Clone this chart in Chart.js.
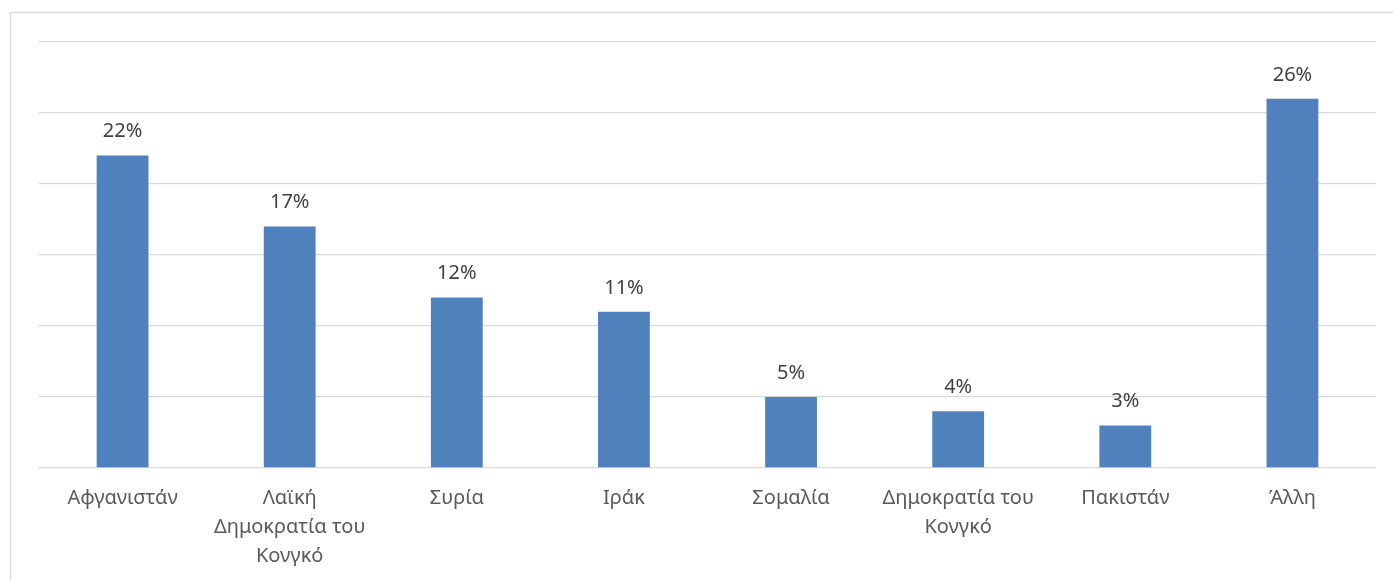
<!DOCTYPE html>
<html>
<head>
<meta charset="utf-8">
<script src="https://cdn.jsdelivr.net/npm/chart.js@4"></script>
<style>
  html, body { margin: 0; padding: 0; background: #fff; }
  #wrap { position: relative; width: 1393px; height: 580px; }
</style>
</head>
<body>
<div id="wrap"><canvas id="chart"></canvas></div>
<script>
// χώρες προέλευσης
const categories = [
  'Αφγανιστάν',
  ['Λαϊκή', 'Δημοκρατία του', 'Κονγκό'],
  'Συρία',
  'Ιράκ',
  'Σομαλία',
  ['Δημοκρατία του', 'Κονγκό'],
  'Πακιστάν',
  'Άλλη'
];
const shares = [22, 17, 12, 11, 5, 4, 3, 26];
const yMax = 30;
const yStep = 5;

const FONT = '"Noto Sans", "Open Sans", sans-serif';

// πλαίσιο γύρω από το γράφημα
const framePlugin = {
  id: 'frame',
  beforeDraw(chart) {
    const ctx = chart.ctx;
    ctx.save();
    ctx.fillStyle = '#fff';
    ctx.fillRect(0, 0, chart.width, chart.height);
    ctx.strokeStyle = '#d9d9d9';
    ctx.lineWidth = 1.3;
    ctx.strokeRect(10.5, 12.5, chart.width + 20, chart.height + 20);
    ctx.restore();
  }
};

// ετικέτες τιμών πάνω από τις μπάρες
const valueLabels = {
  id: 'valueLabels',
  afterDatasetsDraw(chart) {
    const ctx = chart.ctx;
    const meta = chart.getDatasetMeta(0);
    ctx.save();
    ctx.font = '20px ' + FONT;
    ctx.fillStyle = '#404040';
    ctx.textAlign = 'center';
    ctx.textBaseline = 'middle';
    meta.data.forEach((bar, i) => {
      ctx.fillText(shares[i] + '%', bar.x, bar.y - 24);
    });
    ctx.restore();
  }
};

new Chart(document.getElementById('chart'), {
  type: 'bar',
  data: {
    labels: categories,
    datasets: [{
      data: shares,
      backgroundColor: '#4f81bd',
      borderWidth: 0,
      categoryPercentage: 1,
      barPercentage: 0.31
    }]
  },
  options: {
    responsive: true,
    maintainAspectRatio: false,
    animation: false,
    layout: { padding: { left: 39, right: 17, top: 42, bottom: 0 } },
    plugins: {
      legend: { display: false },
      tooltip: { enabled: false }
    },
    scales: {
      x: {
        grid: { display: false },
        border: { display: false },
        ticks: {
          color: '#595959',
          font: { family: FONT, size: 20, lineHeight: 1.45 },
          padding: 8,
          maxRotation: 0,
          autoSkip: false
        },
        afterFit(scale) { scale.height = 112; }
      },
      y: {
        min: 0,
        max: yMax,
        border: { display: false },
        grid: { color: '#d9d9d9', lineWidth: 1.3, drawTicks: false },
        ticks: { display: false, stepSize: yStep },
        afterFit(scale) { scale.width = 0; }
      }
    }
  },
  plugins: [framePlugin, valueLabels]
});
</script>
</body>
</html>
